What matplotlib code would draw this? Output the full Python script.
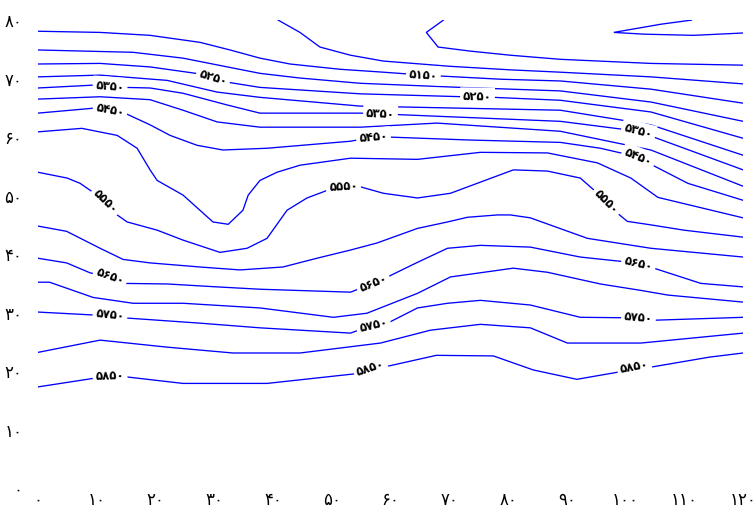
import matplotlib

matplotlib.use("Agg")
import matplotlib.pyplot as plt
import numpy as np

# Persian (extended Arabic-Indic) digits for all text
FA = str.maketrans("0123456789", "۰۱۲۳۴۵۶۷۸۹")


def fa(n):
    return str(int(n)).translate(FA)


# contour lines (x, y) of the height field
x5000 = [111.2, 106.0, 98.0, 103.1, 111.6, 120]
y5000 = [80.0, 79.3, 77.9, 77.6, 77.4, 77.8]

x5050 = [69.0, 66.1, 68.1, 73.6, 80.4, 88.9, 104.3, 120]
y5050 = [80.0, 77.9, 75.4, 74.7, 74.0, 73.3, 72.6, 72.3]

x5100 = [40.9, 44.6, 48.0, 53.2, 58.8, 70.2, 80.4, 88.9, 104.3, 120]
y5100 = [80.0, 77.9, 75.4, 74.0, 73.0, 72.1, 71.5, 71.1, 70.3, 69.1]

x5150 = [0, 10.6, 19.1, 27.6, 32.7, 37.8, 42.9, 51.4, 58.8, 65.6, 78.7, 88.9, 104.3, 120]
y5150 = [78.1, 77.9, 77.4, 76.2, 74.9, 73.5, 72.5, 71.6, 71.1, 70.6, 69.9, 69.6, 68.2, 65.8]

x5200 = [0, 16.2, 24.7, 37.8, 44.6, 54.9, 71.9, 88.9, 104.3, 120]
y5200 = [74.9, 74.5, 73.5, 70.9, 70.1, 69.2, 68.5, 67.9, 66.0, 62.7]

x5250 = [0, 10.6, 19.1, 27.6, 32.2, 37.8, 54.9, 72.4, 77.5, 88.9, 104.3, 120]
y5250 = [72.5, 72.6, 72.0, 70.8, 69.4, 68.5, 67.4, 66.9, 66.8, 66.3, 64.3, 59.8]

x5300 = [0, 10.6, 22.0, 30.5, 37.8, 54.9, 88.9, 104.3, 120]
y5300 = [70.3, 70.6, 69.7, 67.7, 66.8, 65.3, 64.6, 62.1, 56.9]

x5350 = [0, 9.7, 14.8, 19.1, 24.7, 32.2, 37.8, 54.9, 60.0, 88.9, 102.2, 104.8, 120]
y5350 = [68.4, 68.9, 68.5, 68.4, 67.5, 65.5, 64.1, 64.1, 63.9, 62.7, 61.0, 60.0, 54.4]

x5400 = [0, 10.6, 19.1, 24.7, 30.5, 37.8, 54.9, 67.9, 88.9, 104.3, 120]
y5400 = [66.5, 66.9, 66.4, 64.6, 62.6, 61.7, 61.7, 62.4, 61.0, 57.8, 51.6]

x5450 = [0, 10.1, 14.8, 19.1, 22.5, 27.1, 31.5, 39.0, 53.2, 57.1, 60.0, 73.6, 88.9,
         95.7, 102.2, 104.6, 110.6, 120]
y5450 = [64.1, 65.0, 64.1, 62.1, 60.3, 58.6, 57.8, 58.1, 59.3, 60.0, 60.0, 59.5, 59.1,
         58.1, 56.6, 55.2, 52.1, 49.2]

x5500 = [0, 7.5, 13.5, 16.9, 19.1, 20.3, 24.7, 29.8, 32.4, 34.9, 35.8, 37.8, 40.7,
         44.6, 53.2, 64.6, 75.3, 86.7, 95.2, 100.9, 105.5, 120]
y5500 = [60.9, 61.5, 60.3, 58.1, 54.4, 52.6, 50.1, 45.5, 45.1, 47.5, 50.1, 52.6, 54.0,
         55.2, 56.4, 56.2, 57.4, 57.3, 55.6, 53.0, 49.7, 46.2]

x5550 = [0, 5.0, 7.2, 11.8, 13.5, 15.2, 20.3, 24.7, 31.0, 35.6, 39.0, 42.4, 45.8, 50.3,
         52.0, 54.9, 58.8, 64.6, 70.2, 80.9, 86.7, 92.3, 96.6, 98.6, 100.3, 104.3, 109.9, 120]
y5550 = [54.0, 53.0, 52.1, 48.9, 46.7, 45.5, 44.1, 42.4, 40.3, 41.0, 42.7, 47.5, 49.6, 51.3,
         51.5, 51.5, 50.4, 49.6, 50.4, 54.4, 54.2, 53.0, 49.2, 47.0, 45.6, 45.0, 44.1, 42.9]

x5600 = [0, 4.9, 10.6, 14.5, 19.1, 27.6, 34.4, 41.7, 47.5, 53.2, 57.7, 64.6, 69.7, 73.1,
         78.2, 80.4, 83.8, 93.5, 104.3, 120]
y5600 = [44.8, 43.9, 41.0, 39.1, 38.5, 37.8, 37.3, 37.8, 39.3, 40.7, 41.9, 44.4, 45.5, 46.3,
         46.7, 46.7, 46.2, 42.7, 41.0, 39.5]

x5650 = [0, 4.9, 8.9, 12.3, 14.5, 22.0, 30.5, 37.8, 53.2, 57.1, 59.5, 64.6, 69.7, 75.3,
         83.8, 92.3, 101.7, 104.8, 112.8, 120]
y5650 = [39.3, 38.5, 36.8, 36.1, 35.0, 34.9, 34.4, 34.0, 33.5, 35.0, 36.1, 38.6, 41.0, 41.5,
         41.2, 39.5, 38.5, 37.6, 35.0, 34.4]

x5700 = [0, 2.0, 9.4, 16.2, 24.7, 37.8, 50.3, 56.0, 64.6, 70.2, 80.9, 86.7, 95.7, 102.6, 107.2, 120]
y5700 = [35.2, 35.2, 32.6, 31.6, 31.6, 30.8, 29.2, 29.9, 33.3, 36.1, 37.6, 36.9, 34.9, 33.8, 33.0, 31.8]

x5750 = [0, 9.4, 12.3, 14.8, 27.6, 37.8, 53.2, 57.1, 59.5, 64.6, 69.7, 75.3, 83.8, 92.3,
         102.2, 104.8, 120]
y5750 = [30.1, 29.6, 29.6, 29.1, 28.2, 27.4, 26.5, 27.9, 28.2, 30.8, 31.6, 32.1, 31.3, 29.2,
         29.1, 28.7, 29.2]

x5800 = [0, 10.6, 22.0, 33.2, 44.6, 58.3, 66.8, 75.3, 83.8, 90.1, 102.6, 120]
y5800 = [23.2, 25.3, 24.1, 23.1, 23.1, 24.8, 27.0, 28.0, 27.4, 24.8, 24.8, 26.5]

x5850 = [0, 9.7, 12.1, 15.2, 24.7, 39.0, 55.4, 56.6, 59.8, 67.8, 77.5, 84.3, 91.7, 99.7,
         101.5, 104.4, 114.3, 120]
y5850 = [17.3, 18.8, 19.1, 19.0, 17.9, 17.9, 19.7, 20.5, 20.9, 22.7, 22.6, 20.2, 18.6, 20.0,
         20.7, 20.7, 22.4, 23.1]

levels = [5000, 5050, 5100, 5150, 5200, 5250, 5300, 5350, 5400, 5450,
          5500, 5550, 5600, 5650, 5700, 5750, 5800, 5850]

# (level, x) of each inline contour label
label_pos = [
    (5150, 65.6),
    (5250, 29.8), (5250, 74.8),
    (5350, 12.3), (5350, 58.3), (5350, 102.2),
    (5450, 12.3), (5450, 57.1), (5450, 102.2),
    (5550, 11.6), (5550, 52.0), (5550, 96.8),
    (5650, 12.3), (5650, 57.1), (5650, 102.2),
    (5750, 12.3), (5750, 57.1), (5750, 102.2),
    (5850, 12.3), (5850, 56.6), (5850, 101.5),
]

xticks = list(range(0, 121, 10))
yticks = list(range(0, 81, 10))

lines = {lv: (np.array(globals()[f"x{lv}"]), np.array(globals()[f"y{lv}"])) for lv in levels}

fig = plt.figure(figsize=(7.56, 5.16), dpi=100)
ax = fig.add_axes([0.050, 0.054, 0.933, 0.907])

for lv in levels:
    xs, ys = lines[lv]
    ax.plot(xs, ys, color="#0000ff", lw=0.95, solid_joinstyle="miter")

ax.set_xlim(0, 120)
ax.set_ylim(0, 80)

for lv, lx in label_pos:
    xs, ys = lines[lv]
    ly = np.interp(lx, xs, ys)
    dy = np.interp(lx + 1.5, xs, ys) - np.interp(lx - 1.5, xs, ys)
    ang = np.degrees(np.arctan2(dy, 3.0))
    ax.text(lx, ly, fa(lv), fontsize=8.5, fontweight="bold", color="black",
            ha="center", va="center", rotation=ang, rotation_mode="anchor",
            transform_rotates_text=True, zorder=5,
            bbox=dict(boxstyle="square,pad=0.25", fc="white", ec="none"))

ax.set_xticks(xticks)
ax.set_xticklabels([fa(t) for t in xticks])
ax.set_yticks(yticks)
ax.set_yticklabels([fa(t) for t in yticks])
ax.tick_params(length=0, labelsize=12)
ax.tick_params(axis="x", pad=2)
ax.tick_params(axis="y", pad=11)
for s in ax.spines.values():
    s.set_visible(False)

fig.savefig("out.png", dpi=100)
